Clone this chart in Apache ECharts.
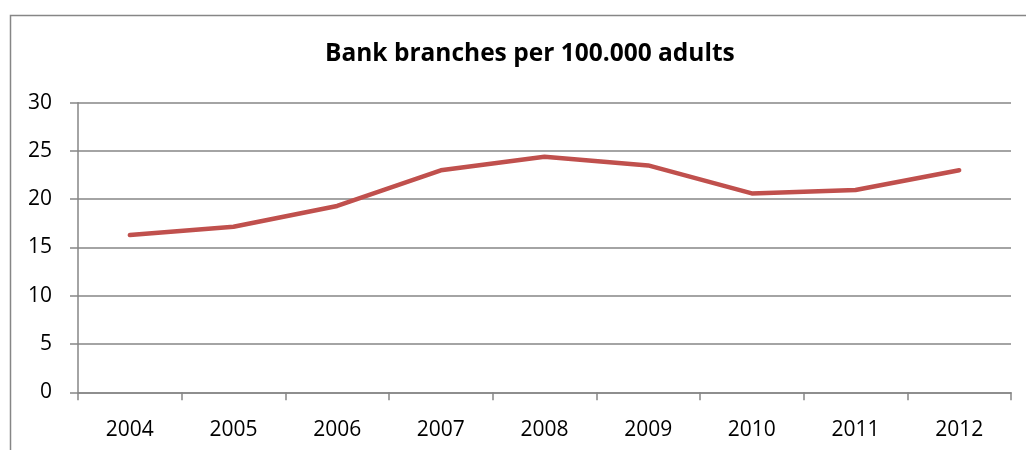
<!DOCTYPE html>
<html>
<head>
<meta charset="utf-8">
<script src="https://cdn.jsdelivr.net/npm/echarts@6/dist/echarts.min.js"></script>
<style>html,body{margin:0;padding:0;background:#fff;}#c{width:1026px;height:450px;}</style>
</head>
<body>
<div id="c"></div>
<script>
const years = ['2004','2005','2006','2007','2008','2009','2010','2011','2012'];
const branches = [16.3, 17.15, 19.3, 23.0, 24.4, 23.5, 20.6, 20.95, 23.0];
const yTicks = { min: 0, max: 30, interval: 5 };

const chart = echarts.init(document.getElementById('c'));
chart.setOption({
  animation: false,
  backgroundColor: '#fff',
  graphic: [{
    type: 'rect', left: 8, top: 13,
    shape: { width: 1100, height: 500 },
    style: { fill: 'none', stroke: '#868686', lineWidth: 1.5 },
    silent: true
  }],
  title: {
    text: 'Bank branches per 100.000 adults',
    left: 320, top: 37,
    textStyle: { fontFamily: 'Open Sans', fontWeight: 'bold', fontSize: 24.5, color: '#000' }
  },
  grid: { left: 78, right: 15, top: 102.7, bottom: 57.7, containLabel: false },
  xAxis: {
    type: 'category', data: years, boundaryGap: true,
    axisLine: { lineStyle: { color: '#868686', width: 1.5 } },
    axisTick: { show: true, length: 8, alignWithLabel: false, lineStyle: { color: '#868686', width: 1.5 } },
    axisLabel: { color: '#000', fontSize: 21, fontFamily: 'Open Sans', margin: 27 },
    splitLine: { show: false }
  },
  yAxis: {
    type: 'value', min: yTicks.min, max: yTicks.max, interval: yTicks.interval,
    axisLine: { show: true, lineStyle: { color: '#868686', width: 1.5 } },
    axisTick: { show: true, length: 8, lineStyle: { color: '#868686', width: 1.5 } },
    axisLabel: { color: '#000', fontSize: 21, fontFamily: 'Open Sans', margin: 26 },
    splitLine: { show: true, lineStyle: { color: '#868686', width: 1.5 } }
  },
  series: [{
    type: 'line', data: branches,
    symbol: 'none',
    lineStyle: { color: '#C0504D', width: 4.5, cap: 'round', join: 'round' },
    itemStyle: { color: '#C0504D' }
  }]
});
</script>
</body>
</html>
